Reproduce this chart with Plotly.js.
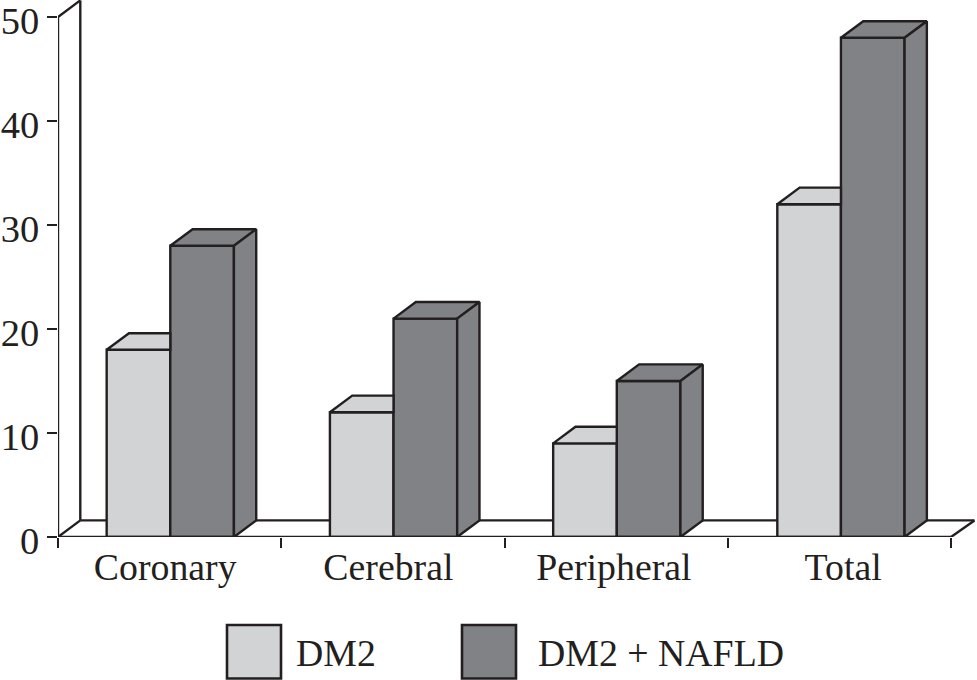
<!DOCTYPE html>
<html><head><meta charset="utf-8">
<script src="https://cdn.plot.ly/plotly-3.0.1.min.js"></script>
<style>html,body{margin:0;padding:0;background:#fff}#c{width:977px;height:680px}</style>
</head><body><div id="c"></div>
<script>
const categories = ['Coronary','Cerebral','Peripheral','Total'];
const dm2 = [18,12,9,32];
const dm2Nafld = [28,21,15,48];
const seriesNames = ['DM2','DM2 + NAFLD'];
const yTicks = [0,10,20,30,40,50];
const groupEdges = [0,1,2,3,4];
const groupCentres = [0.503,1.503,2.503,3.507];
const labelPositions = [0.48,1.48,2.49,3.517];

const W=977,H=680,L=58,B=143,pxPerCat=223.25,pxPerUnit=10.4;
const dx=22.3/pxPerCat, dy=16.6/pxPerUnit, floorEnd=23.5/pxPerCat, barW=0.285;
const light='#d1d3d4', dark='#808285', ink='#231f20', lw=2.4;
const font={family:'"Liberation Serif", serif',size:37.8,color:ink};
const yFont={family:'"Liberation Serif", serif',size:38.5,color:ink};
const x0=i=>groupCentres[i]-barW, xm=i=>groupCentres[i], x1=i=>groupCentres[i]+barW;

function faces(fn){const xs=[],ys=[];categories.forEach((_,i)=>{fn(i).forEach(p=>{xs.push(p[0]);ys.push(p[1]);});xs.push(null);ys.push(null);});return {xs,ys};}
function poly(f,color){const s=faces(f);return {type:'scatter',mode:'lines',x:s.xs,y:s.ys,fill:'toself',fillcolor:color,line:{color:ink,width:lw,shape:'linear'},hoverinfo:'skip',showlegend:false,connectgaps:false};}

const xMax=(W-L)/pxPerCat, yMax=(H-B)/pxPerUnit;
const line=(a,b,c,d)=>({type:'line',xref:'x',yref:'y',x0:a,y0:b,x1:c,y1:d,line:{color:ink,width:lw},layer:'below'});
const shapes=[
  line(0,0,dx,dy), line(dx,dy,dx,50+dy), line(0,50,dx,50+dy),
  line(dx,dy,4+floorEnd,dy), line(4,0,4+floorEnd,dy),
  line(0,0,0,50), Object.assign(line(0,0,4,0),{layer:'above'})
];
const boxes=[[227,281],[462,516]];
const colors=[light,dark];
const px=p=>(p-L)/(W-L), py=p=>(H-B-p)/(H-B);
const annotations=[];
boxes.forEach((b,i)=>{
  shapes.push({type:'rect',xref:'paper',yref:'paper',x0:px(b[0]),x1:px(b[1]),y0:py(625),y1:py(678.5),fillcolor:colors[i],line:{color:ink,width:2.6},layer:'above'});
  annotations.push({xref:'paper',yref:'paper',x:px(b[1]+13+(i?7:0)),y:py(653),xanchor:'left',yanchor:'middle',text:seriesNames[i],showarrow:false,font:font});
});

const traces=[
 {type:'bar',name:seriesNames[0],x:categories.map((_,i)=>(x0(i)+xm(i))/2),y:dm2,width:barW,marker:{color:light,line:{color:ink,width:lw}},showlegend:false,cliponaxis:false},
 {type:'bar',name:seriesNames[1],x:categories.map((_,i)=>(xm(i)+x1(i))/2),y:dm2Nafld,width:barW,marker:{color:dark,line:{color:ink,width:lw}},showlegend:false,cliponaxis:false},
 poly(i=>[[x0(i),dm2[i]],[x0(i)+dx,dm2[i]+dy],[xm(i),dm2[i]+dy],[xm(i),dm2[i]],[x0(i),dm2[i]]],light),
 poly(i=>[[xm(i),dm2Nafld[i]],[xm(i)+dx,dm2Nafld[i]+dy],[x1(i)+dx,dm2Nafld[i]+dy],[x1(i),dm2Nafld[i]],[xm(i),dm2Nafld[i]]],dark),
 poly(i=>[[x1(i),0],[x1(i)+dx,dy],[x1(i)+dx,dm2Nafld[i]+dy],[x1(i),dm2Nafld[i]],[x1(i),0]],dark)
];
const layout={
 width:W,height:H,margin:{l:L,r:0,t:0,b:B,pad:0},paper_bgcolor:'#fff',plot_bgcolor:'rgba(0,0,0,0)',
 barmode:'overlay',showlegend:false,font:font,shapes:shapes,annotations:annotations,
 xaxis:{type:'linear',range:[0,xMax],showgrid:false,zeroline:false,showline:false,
   tickmode:'array',tickvals:labelPositions,ticktext:categories,ticks:'',ticklen:0,ticklabelstandoff:4,tickfont:font,
   minor:{tickmode:'array',tickvals:groupEdges,ticks:'outside',ticklen:10,tickwidth:2,tickcolor:ink,showgrid:false}},
 yaxis:{type:'linear',range:[0,yMax],showgrid:false,zeroline:false,showline:false,ticklabeloverflow:'allow',ticklabelshift:4,
   tickmode:'array',tickvals:yTicks,ticks:'outside',ticklen:10,tickwidth:lw,tickcolor:ink,tickfont:yFont}
};
Plotly.newPlot('c',traces,layout,{displayModeBar:false,staticPlot:true});
</script></body></html>
